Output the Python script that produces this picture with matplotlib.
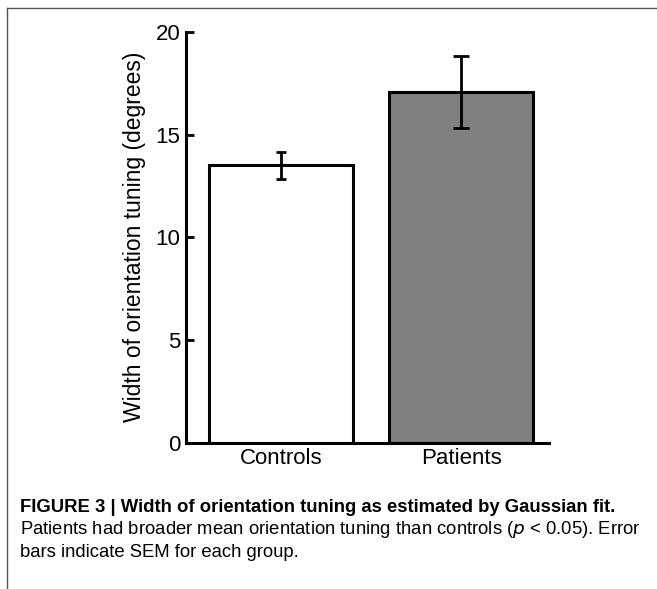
import matplotlib.pyplot as plt
from matplotlib.lines import Line2D

plt.rcParams['font.family'] = ['Liberation Sans', 'DejaVu Sans']

# data
groups = ['Controls', 'Patients']
means = [13.5, 17.07]
sems = [0.64, 1.76]
bar_colors = ['white', '#808080']
cap_sizes = [3.6, 5.8]

fig = plt.figure(figsize=(6.57, 5.89), dpi=100)
ax = fig.add_axes([0.283, 0.248, 0.553, 0.698])

x = list(range(len(groups)))
ax.bar(x, means, width=0.8, color=bar_colors, edgecolor='black', linewidth=2.2, zorder=2)
for i in x:
    ax.errorbar(x[i], means[i], yerr=sems[i], fmt='none', ecolor='black',
                elinewidth=2, capsize=cap_sizes[i], capthick=2, zorder=3)

ax.set_xlim(-0.53, 1.49)
ax.set_ylim(0, 20)
ax.set_yticks([0, 5, 10, 15, 20])
ax.set_xticks(x)
ax.set_xticklabels(groups)
ax.tick_params(axis='y', direction='in', length=6, width=2, labelsize=16, pad=4)
ax.tick_params(axis='x', length=0, labelsize=16, pad=4)
for side in ['top', 'right']:
    ax.spines[side].set_visible(False)
for side in ['left', 'bottom']:
    ax.spines[side].set_linewidth(2.2)

fig.text(0.205, 0.598, 'Width of orientation tuning (degrees)', rotation=90,
         ha='center', va='center', fontsize=16.5)

# panel frame like the journal page
fig.add_artist(Line2D([0.011, 1.0], [0.987, 0.987], color='#555555', lw=1))
fig.add_artist(Line2D([0.011, 0.011], [0.0, 0.987], color='#555555', lw=1))

fig.text(0.030, 0.139, 'FIGURE 3 | Width of orientation tuning as estimated by Gaussian fit.',
         fontweight='bold', fontsize=13.3, va='center')
fig.text(0.030, 0.101, 'Patients had broader mean orientation tuning than controls ($p$ < 0.05). Error',
         fontsize=13.3, va='center')
fig.text(0.030, 0.062, 'bars indicate SEM for each group.',
         fontsize=13.3, va='center')

fig.savefig('out.png', dpi=100)
